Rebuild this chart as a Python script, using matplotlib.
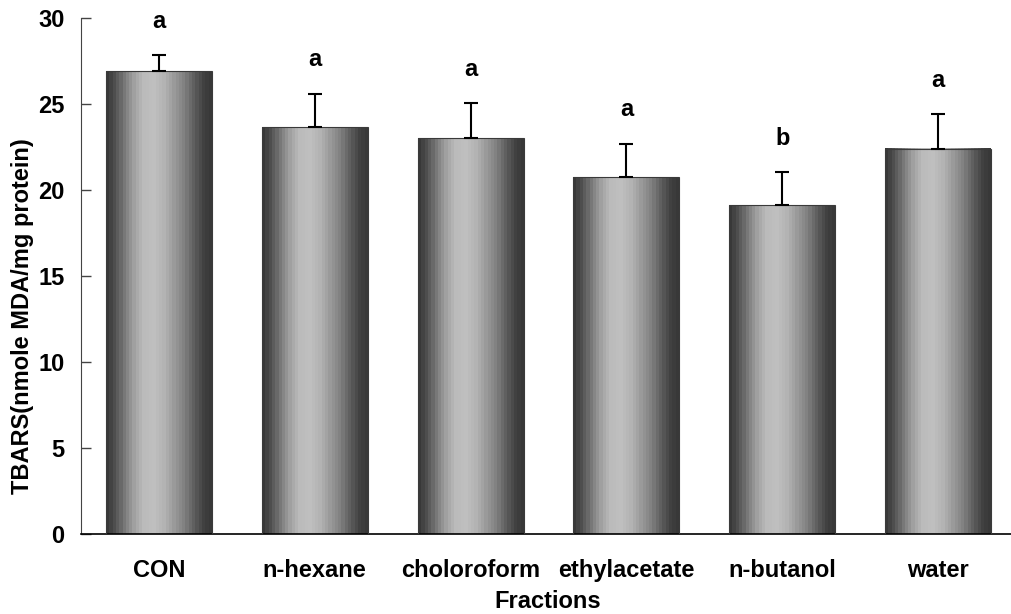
import numpy as np
import matplotlib
matplotlib.use("Agg")
import matplotlib.pyplot as plt

# data
fractions = ["CON", "n-hexane", "choloroform", "ethylacetate", "n-butanol", "water"]
tbars = [26.9, 23.65, 23.0, 20.75, 19.1, 22.4]
sd = [0.95, 1.95, 2.05, 1.95, 1.95, 2.0]
letters = ["a", "a", "a", "a", "b", "a"]

plt.rcParams['font.family'] = ['Liberation Sans', 'DejaVu Sans']
plt.rcParams['font.weight'] = 'bold'
fs = 17

fig = plt.figure(figsize=(10.12, 6.14), dpi=100)
ax = fig.add_axes([81 / 1012, 80 / 614, 935 / 1012, 516 / 614])

# shaded "cylinder" look: dark edges, light band left of centre
prof_x = [0.0, 0.06, 0.15, 0.25, 0.35, 0.45, 0.55, 0.65, 0.75, 0.85, 0.93, 1.0]
prof_g = [0.22, 0.30, 0.45, 0.62, 0.73, 0.75, 0.70, 0.60, 0.50, 0.36, 0.26, 0.22]
grad = np.interp(np.linspace(0, 1, 32), prof_x, prof_g)[None, :]

width = 0.68
x = np.arange(len(fractions))
for xi, h in zip(x, tbars):
    ax.imshow(grad, cmap='gray', vmin=0, vmax=1, aspect='auto',
              extent=(xi - width / 2, xi + width / 2, 0, h),
              interpolation='nearest', zorder=2)
    ax.bar(xi, h, width=width, facecolor='none', edgecolor='#3a3a3a',
           linewidth=0.8, zorder=3)

ax.errorbar(x, tbars, yerr=[np.zeros(len(sd)), sd], fmt='none',
            ecolor='black', elinewidth=1.5, capsize=4.7, capthick=1.5, zorder=4)

for xi, h, e, s in zip(x, tbars, sd, letters):
    ax.annotate(s, (xi, h + e), xytext=(0, 16), textcoords='offset points',
                ha='center', va='bottom', fontsize=fs, fontweight='bold')

ax.set_xlim(-0.5, len(fractions) - 0.5)
ax.set_ylim(0, 30)
ax.set_yticks(range(0, 31, 5))
ax.set_xticks(x)
ax.set_xticklabels(fractions, fontsize=fs, fontweight='bold')
ax.tick_params(axis='x', length=0, pad=18)
ax.tick_params(axis='y', direction='in', length=7, width=1, pad=12,
               labelsize=fs, color='#444444')
for lab in ax.get_yticklabels():
    lab.set_fontweight('bold')

ax.spines['top'].set_visible(False)
ax.spines['right'].set_visible(False)
ax.spines['left'].set_color('#444444')
ax.spines['bottom'].set_color('black')
ax.spines['bottom'].set_linewidth(1.2)

ax.set_ylabel("TBARS(nmole MDA/mg protein)", fontsize=fs, fontweight='bold')
ax.yaxis.set_label_coords(-47 / 935, (534 - 316) / 516)
fig.text(548 / 1012, 1 / 614, "Fractions", ha='center', va='bottom',
         fontsize=fs, fontweight='bold')

fig.savefig("out.png", dpi=100)
